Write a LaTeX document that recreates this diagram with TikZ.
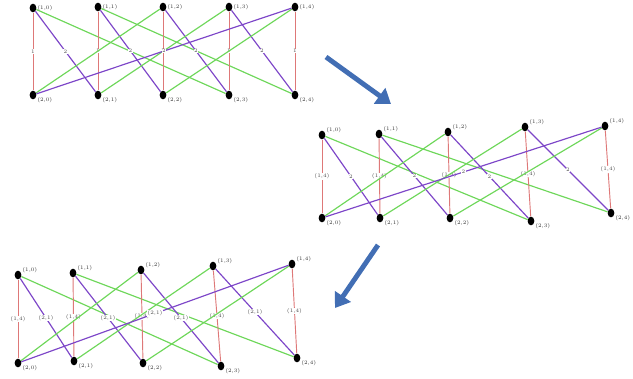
\documentclass[tikz,border=0pt]{standalone}
\usepackage{tikz}
\usetikzlibrary{arrows.meta, shapes.geometric}
\definecolor{redge}{RGB}{222,120,120}
\definecolor{pedge}{RGB}{125,70,200}
\definecolor{gedge}{RGB}{110,215,90}
\definecolor{arrowblue}{RGB}{66,110,180}
\tikzset{
  vtx/.style={ellipse, fill=black, minimum width=0.2cm, minimum height=0.26cm, inner sep=0pt},
  lbl/.style={font=\fontsize{4.5}{5}\selectfont, text=black!80, inner sep=0.5pt},
  elbl/.style={font=\fontsize{4.5}{5}\selectfont, text=black!70, fill=white, inner sep=0.4pt},
  redline/.style={redge, line width=0.8pt},
  purline/.style={pedge, line width=1pt},
  grnline/.style={gedge, line width=1pt},
  bigarrow/.style={arrowblue, line width=4.2pt, -{Triangle[width=16pt, length=12pt]}}
}
\begin{document}
\begin{tikzpicture}[x=0.03cm, y=-0.03cm]
  \useasboundingbox (0,0) rectangle (633,378);
  % first graph
  \foreach \i/\x/\y/\u/\v in {0/33/8/33/95, 1/98/7/98/95, 2/163/7/163/95, 3/229/7/229/95, 4/295/7/295/95} {
    \node[vtx, label={[lbl]0:(1,\i)}] (A1\i) at (\x,\y) {};
    \node[vtx, label={[lbl]-20:(2,\i)}] (A2\i) at (\u,\v) {};
  }
  % second graph
  \foreach \i/\x/\y/\u/\v in {0/322/135/322/218, 1/379/134/380/218, 2/448/132/450/218, 3/525/127/531/221, 4/605/126/611/213} {
    \node[vtx, label={[lbl]15:(1,\i)}] (B1\i) at (\x,\y) {};
    \node[vtx, label={[lbl]-20:(2,\i)}] (B2\i) at (\u,\v) {};
  }
  % third graph
  \foreach \i/\x/\y/\u/\v in {0/18/275/18/363, 1/73/273/74/361, 2/141/270/143/363, 3/213/266/221/366, 4/292/264/297/358} {
    \node[vtx, label={[lbl]15:(1,\i)}] (C1\i) at (\x,\y) {};
    \node[vtx, label={[lbl]-20:(2,\i)}] (C2\i) at (\u,\v) {};
  }
  % edges
  \foreach \i [evaluate=\i as \j using {int(mod(\i+1,5))}, evaluate=\i as \k using {int(mod(\i+3,5))}] in {0,...,4} {
    \draw[grnline] (A1\i) -- (A2\k);
    \draw[grnline] (B1\i) -- (B2\k);
    \draw[grnline] (C1\i) -- (C2\k);
    \draw[purline] (A1\i) -- node[elbl] {2} (A2\j);
    \draw[purline] (B1\i) -- node[elbl] {2} (B2\j);
    \draw[purline] (C1\i) -- node[elbl] {(2,1)} (C2\j);
    \draw[redline] (A1\i) -- node[elbl] {1} (A2\i);
    \draw[redline] (B1\i) -- node[elbl] {(1,4)} (B2\i);
    \draw[redline] (C1\i) -- node[elbl] {(1,4)} (C2\i);
  }
  % arrows between graphs
  \coordinate (s1) at (326,57);
  \coordinate (e1) at (391,104);
  \coordinate (s2) at (378,245);
  \coordinate (e2) at (335,308);
  \draw[bigarrow] (s1) -- (e1);
  \draw[bigarrow] (s2) -- (e2);
\end{tikzpicture}
\end{document}
